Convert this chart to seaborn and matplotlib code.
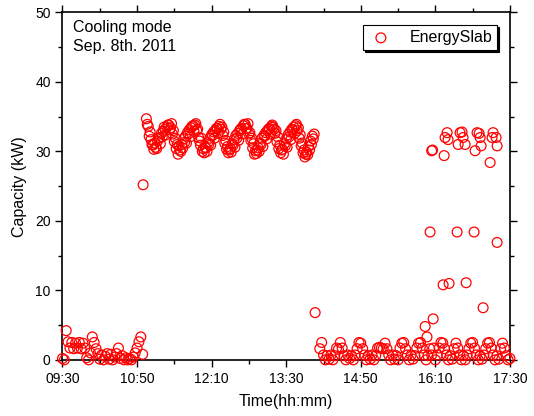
import matplotlib
matplotlib.use("Agg")
import matplotlib.pyplot as plt
import seaborn as sns
import pandas as pd
from matplotlib.ticker import MultipleLocator

# ---------------- data (minutes after 09:30, capacity kW) ----------------
time_morning = [0, 2, 4, 6, 8, 10, 12, 14, 16, 18, 20, 22, 24, 26, 28, 30, 32, 34, 36, 38,
                40, 42, 44, 46, 48, 50, 52, 54, 56, 58, 60, 62, 64, 66, 68, 70, 72, 74, 76, 78,
                80, 82, 84, 86, 86.5]
cap_morning = [0.2, 0.0, 4.2, 2.6, 1.7, 2.5, 1.6, 2.4, 1.7, 2.5, 1.6, 2.4, 1.7, 0.3, 0.0, 1.0,
               3.3, 2.5, 1.6, 0.9, 0.1, 0.7, 0.0, 0.5, 0.9, 0.1, 0.8, 0.0, 0.4, 0.9, 1.7, 0.2,
               0.6, 0.0, 0.3, 0.0, 0.2, 0.0, 0.4, 1.0, 1.7, 2.6, 3.3, 0.8, 25.2]

time_midday = [90, 92, 94, 96, 98, 100, 102, 104, 106, 108, 110, 112, 114, 116, 118, 120,
               122, 124, 126, 128, 130, 132, 134, 136, 138, 140, 142, 144, 146, 148, 150, 152,
               154, 156, 158, 160, 162, 164, 166, 168, 170, 172, 174, 176, 178, 180, 182, 184,
               186, 188, 190, 192, 194, 196, 198, 200, 202, 204, 206, 208, 210, 212, 214, 216,
               218, 220, 222, 224, 226, 228, 230, 232, 234, 236, 238, 240, 242, 244, 246, 248,
               250, 252, 254, 256, 258, 260, 262, 264, 266, 268, 270]
cap_midday = [34.7, 33.6, 32.8, 31.0, 30.3, 30.6, 31.5, 32.0, 32.6, 32.9, 33.2, 33.5, 33.8, 33.4,
              32.5, 31.4, 30.4, 29.6, 30.2, 31.0, 31.8, 32.2, 32.7, 33.1, 33.4, 33.7, 33.8, 33.0,
              32.0, 30.9, 30.0, 29.8, 30.5, 31.3, 31.9, 32.4, 32.8, 33.0, 33.3, 33.6, 33.2, 32.3,
              31.2, 30.3, 29.8, 30.4, 31.1, 31.7, 32.3, 32.6, 33.0, 33.3, 33.7, 33.9, 33.3, 32.5,
              31.6, 30.5, 29.6, 29.7, 30.5, 31.2, 31.9, 32.3, 32.7, 33.0, 33.3, 33.6, 33.5, 32.6,
              31.4, 30.4, 29.8, 30.3, 31.1, 31.8, 32.4, 32.8, 33.2, 33.5, 33.7, 33.0, 31.9, 30.8,
              29.8, 29.2, 29.9, 30.7, 31.5, 32.2, 32.5]

time_midday_odd = [91, 93, 95, 97, 99, 101, 103, 105, 107, 109, 111, 113, 115, 117, 119, 121,
                   123, 125, 127, 129, 131, 133, 135, 137, 139, 141, 143, 145, 147, 149, 151, 153,
                   155, 157, 159, 161, 163, 165, 167, 169, 171, 173, 175, 177, 179, 181, 183, 185,
                   187, 189, 191, 193, 195, 197, 199, 201, 203, 205, 207, 209, 211, 213, 215, 217,
                   219, 221, 223, 225, 227, 229, 231, 233, 235, 237, 239, 241, 243, 245, 247, 249,
                   251, 253, 255, 257, 259, 261, 263, 265, 267, 269]
cap_midday_odd = [33.9, 32.2, 31.7, 30.9, 31.2, 30.4, 31.9, 31.1, 32.1, 33.5, 32.4, 33.8, 33.1, 34.0,
                  33.0, 31.9, 31.0, 30.8, 30.0, 30.5, 31.3, 31.2, 32.5, 32.1, 33.6, 32.9, 34.0, 33.2,
                  31.5, 31.9, 30.4, 30.6, 30.0, 31.0, 30.9, 32.3, 31.9, 33.3, 32.6, 33.9, 33.5, 32.8,
                  31.6, 30.7, 30.2, 29.9, 30.9, 30.6, 31.9, 31.6, 33.2, 32.5, 33.9, 33.3, 34.0, 32.7,
                  31.9, 31.1, 30.1, 30.2, 30.0, 31.0, 30.7, 32.2, 31.8, 33.2, 32.5, 33.8, 33.2, 33.0,
                  32.1, 30.9, 30.2, 29.6, 30.8, 30.6, 32.1, 31.7, 33.1, 32.6, 33.9, 33.4, 32.4, 31.2,
                  30.2, 29.6, 29.5, 30.2, 31.0, 31.8]

time_afternoon = [276, 278, 280, 282, 284, 286, 288, 290, 292, 294, 296, 298, 300, 302, 304, 306,
                  308, 310, 312, 314, 316, 318, 320, 322, 324, 326, 328, 330, 332, 334, 336, 338,
                  340, 342, 344, 346, 348, 350, 352, 354, 356, 358, 360, 362, 364, 366, 368, 370,
                  372, 374, 376, 378, 380, 382, 384, 386, 388, 390, 392, 394, 396, 398, 400, 402,
                  404, 406, 408, 410, 412, 414, 416, 418, 420, 422, 424, 426, 428, 430, 432, 434,
                  436, 438, 440, 442, 444, 446, 448, 450, 452, 454, 456, 458, 460, 462, 464, 466,
                  468, 470, 472, 474, 476, 478, 480]
cap_afternoon = [1.6, 2.5, 0.7, 0.0, 0.6, 0.1, 0.7, 0.0, 0.6, 1.7, 1.5, 2.5, 1.7, 0.6, 0.0, 0.7,
                 0.2, 0.6, 0.0, 0.7, 1.6, 2.5, 2.4, 1.6, 0.7, 0.0, 0.6, 0.1, 0.7, 0.0, 0.6, 1.7,
                 1.8, 1.7, 1.6, 2.4, 1.6, 0.7, 0.0, 0.7, 0.1, 0.6, 0.0, 1.7, 2.4, 2.5, 1.6, 0.7,
                 0.0, 0.7, 0.1, 0.6, 1.7, 2.4, 2.5, 1.7, 0.7, 0.0, 0.6, 1.6, 0.7, 1.7, 0.0, 0.7,
                 1.7, 2.5, 2.4, 1.6, 0.7, 0.0, 0.6, 0.1, 1.6, 2.4, 1.7, 0.7, 0.0, 0.6, 0.0, 0.7,
                 1.6, 2.4, 2.5, 1.7, 0.7, 0.0, 0.6, 0.1, 0.7, 1.6, 2.4, 2.5, 1.7, 0.7, 0.0, 0.6,
                 0.1, 1.6, 2.4, 1.7, 0.6, 0.0, 0.2]

time_peaks = [271, 389, 391, 394.3, 396, 397, 397.6, 408.3, 409.4, 410.4, 412.6, 413.6, 414.7,
              423.3, 424.4, 426.5, 428.6, 429.7, 431.9, 433, 441.5, 442.6, 444.7, 446.9, 448,
              449, 451.2, 458.7, 460.8, 461.9, 465.1, 466.2, 466.2]
cap_peaks = [6.8, 4.8, 3.3, 18.4, 30.1, 30.2, 5.9, 10.8, 29.4, 32.0, 32.7, 31.7, 11.0,
             18.4, 31.0, 32.7, 32.8, 32.0, 31.0, 11.1, 18.4, 30.1, 32.7, 32.6, 32.0,
             30.8, 7.5, 28.4, 32.0, 32.7, 32.0, 30.8, 16.9]

tick_positions = [0, 80, 160, 240, 320, 400, 480]
tick_labels = ["09:30", "10:50", "12:10", "13:30", "14:50", "16:10", "17:30"]

df = pd.DataFrame({
    "t": time_morning + time_midday + time_midday_odd + time_afternoon + time_peaks,
    "cap": cap_morning + cap_midday + cap_midday_odd + cap_afternoon + cap_peaks,
})

# ---------------- style ----------------
sns.set_theme(style="ticks")
plt.rcParams['font.family'] = ['Liberation Sans', 'DejaVu Sans']
plt.rcParams['text.color'] = 'black'
plt.rcParams['axes.labelcolor'] = 'black'
plt.rcParams['xtick.color'] = 'black'
plt.rcParams['ytick.color'] = 'black'
plt.rcParams['axes.edgecolor'] = 'black'

fig = plt.figure(figsize=(5.34, 4.16), dpi=100)
ax = fig.add_axes([0.117, 0.135, 0.838, 0.835])

sns.scatterplot(data=df, x="t", y="cap", ax=ax, marker="o", s=50,
                facecolors="none", edgecolor="red", linewidth=0.9,
                label="EnergySlab", clip_on=False, zorder=3)

ax.set_xlim(0, 480)
ax.set_ylim(0, 50)
ax.set_xticks(tick_positions)
ax.set_xticklabels(tick_labels)
ax.xaxis.set_minor_locator(MultipleLocator(40))
ax.yaxis.set_major_locator(MultipleLocator(10))
ax.yaxis.set_minor_locator(MultipleLocator(5))
ax.tick_params(which="both", direction="out", top=True, right=True,
               labeltop=False, labelright=False, labelsize=10, width=1.0)
ax.tick_params(which="major", length=5)
ax.tick_params(which="minor", length=3)
for sp in ax.spines.values():
    sp.set_linewidth(1.2)
    sp.set_color("black")

ax.set_xlabel("Time(hh:mm)", fontsize=11.5, labelpad=6)
ax.set_ylabel("Capacity (kW)", fontsize=11.5, labelpad=6)

ax.text(0.023, 0.978, "Cooling mode\nSep. 8th. 2011", transform=ax.transAxes,
        ha="left", va="top", fontsize=11.5, linespacing=1.3)

leg = ax.legend(loc="upper right", frameon=True, fancybox=False, edgecolor="black",
                fontsize=11.5, handlelength=1.6, handletextpad=1.0, borderpad=0.3,
                borderaxespad=0.8,
                shadow={"ox": 1.5, "oy": -1.5, "facecolor": "black",
                        "edgecolor": "black", "alpha": 1.0})
leg.get_frame().set_linewidth(0.8)

fig.savefig("out.png", dpi=100)
